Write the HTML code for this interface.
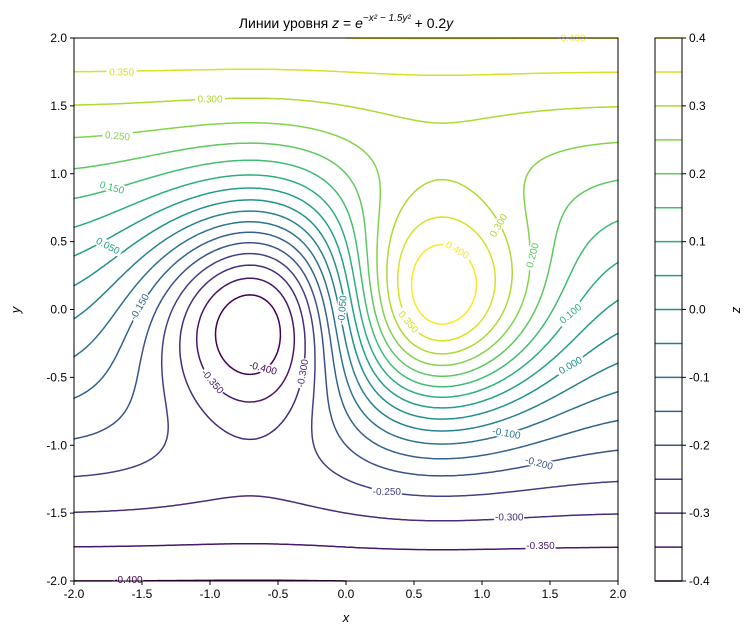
<!DOCTYPE html>
<html><head><meta charset="utf-8">
<style>
body{margin:0;background:#fff;font-family:"Liberation Sans",sans-serif;}
svg text{font-family:"Liberation Sans","DejaVu Sans",sans-serif;}
</style></head>
<body>
<svg id="chart" width="754" height="634" xmlns="http://www.w3.org/2000/svg">
<rect width="754" height="634" fill="#fff"/>
<g id="plot"></g>
<g id="labels"></g>
<rect x="74" y="38" width="544" height="543" fill="none" stroke="#000" stroke-width="1"/>
<g id="axes"></g>
<text x="346" y="28" text-anchor="middle" font-size="14">Линии уровня <tspan font-style="italic">z</tspan> = <tspan font-style="italic">e</tspan><tspan dy="-7" font-size="10" font-style="italic">−x² − 1.5y²</tspan><tspan dy="7"> + 0.2</tspan><tspan font-style="italic">y</tspan></text>
<text x="346" y="622" text-anchor="middle" font-size="13" font-style="italic">x</text>
<text x="20" y="310" text-anchor="middle" font-size="13" font-style="italic" transform="rotate(-90 20 310)">y</text>
<g id="cbar"></g>
<text x="740" y="310" text-anchor="middle" font-size="13" font-style="italic" transform="rotate(-90 740 310)">z</text>
</svg>
<script>
const levels=[-0.4,-0.35,-0.3,-0.25,-0.2,-0.15,-0.1,-0.05,0,0.05,0.1,0.15,0.2,0.25,0.3,0.35,0.4];
const xTicks=[-2,-1.5,-1,-0.5,0,0.5,1,1.5,2];
const yTicks=[-2,-1.5,-1,-0.5,0,0.5,1,1.5,2];
const cbTicks=[-0.4,-0.3,-0.2,-0.1,0,0.1,0.2,0.3,0.4];
const labelTexts=["0.400","0.350","0.300","0.250","0.150","0.050","-0.150","-0.350","-0.400","-0.300","-0.050","0.400","0.350","0.300","0.200","0.100","0.000","-0.100","-0.200","-0.250","-0.300","-0.350","-0.400"];
const labelXs=[1.67,-1.65,-1.0,-1.68,-1.72,-1.75,-1.52,-0.98,-0.61,-0.32,-0.03,0.82,0.46,1.12,1.37,1.65,1.65,1.18,1.42,0.3,1.2,1.43,-1.6];
const labelYs=[2.0,1.75,1.55,1.28,0.9,0.47,0.02,-0.53,-0.43,-0.47,0.0,0.44,-0.09,0.62,0.4,-0.03,-0.41,-0.91,-1.13,-1.34,-1.53,-1.74,-1.99];
const labelRots=[0,0,0,5,15,28,-60,50,15,-80,-85,30,50,-60,-75,-40,-30,10,15,0,0,0,0];

const X0=74,X1=618,Y0=581,Y1=38;
const sx=x=>X0+(x+2)/4*(X1-X0);
const sy=y=>Y0-(y+2)/4*(Y0-Y1);
const f=(x,y)=>x*Math.exp(-x*x-1.5*y*y)+0.2*y;
const vir=["#440154","#482475","#414487","#355f8d","#2a788e","#21918c","#22a884","#44bf70","#7ad151","#bddf26","#fde725"];
function hx(c){return [1,3,5].map(i=>parseInt(c.substr(i,2),16));}
function cmap(t){t=Math.max(0,Math.min(1,t))*10;const i=Math.min(9,Math.floor(t)),u=t-i;const a=hx(vir[i]),b=hx(vir[i+1]);return "rgb("+a.map((v,k)=>Math.round(v+(b[k]-v)*u)).join(",")+")";}
const col=l=>cmap((l-levels[0])/(levels[levels.length-1]-levels[0]));
const NS="http://www.w3.org/2000/svg";
function el(tag,attrs,parent){const e=document.createElementNS(NS,tag);for(const k in attrs)e.setAttribute(k,attrs[k]);parent.appendChild(e);return e;}

const N=220;
const grid=[];
for(let j=0;j<=N;j++){grid[j]=[];for(let i=0;i<=N;i++){grid[j][i]=f(-2+4*i/N,-2+4*j/N);}}
const plot=document.getElementById('plot');
levels.forEach((L,li)=>{
  let d="";
  for(let j=0;j<N;j++){for(let i=0;i<N;i++){
    const x0=-2+4*i/N,x1=-2+4*(i+1)/N,y0=-2+4*j/N,y1=-2+4*(j+1)/N;
    const v=[grid[j][i],grid[j][i+1],grid[j+1][i+1],grid[j+1][i]];
    const p=[[x0,y0],[x1,y0],[x1,y1],[x0,y1]];
    const pts=[];
    for(let k=0;k<4;k++){const a=v[k]-L,b=v[(k+1)%4]-L;
      if((a<0)!==(b<0)){const t=a/(a-b);const P=p[k],Q=p[(k+1)%4];pts.push([P[0]+(Q[0]-P[0])*t,P[1]+(Q[1]-P[1])*t]);}}
    for(let k=0;k+1<pts.length;k+=2){d+="M"+sx(pts[k][0]).toFixed(1)+" "+sy(pts[k][1]).toFixed(1)+"L"+sx(pts[k+1][0]).toFixed(1)+" "+sy(pts[k+1][1]).toFixed(1);}
  }}
  if(d){const pa=el('path',{d:d,stroke:col(L),'stroke-width':1.5,fill:'none','stroke-linecap':'round'},plot);
    
    }
});
const lg=document.getElementById('labels');
labelTexts.forEach((t,i)=>{
  const v=parseFloat(t);const x=sx(labelXs[i]),y=sy(labelYs[i]);
  const g=el('g',{transform:`translate(${x},${y}) rotate(${labelRots[i]})`},lg);
  
  
  el('rect',{x:-15,y:-5,width:30,height:10,fill:'#fff'},g);
  const tx=el('text',{x:0,y:3.5,'text-anchor':'middle','font-size':10,fill:col(v)},g);
  tx.textContent=t;
});
const ax=document.getElementById('axes');
xTicks.forEach(v=>{const x=sx(v);
  el('line',{x1:x,x2:x,y1:581,y2:585,stroke:'#000'},ax);
  const t=el('text',{x:x,y:598,'text-anchor':'middle','font-size':12},ax);t.textContent=v.toFixed(1);
  
  });
yTicks.forEach(v=>{const y=sy(v);
  el('line',{x1:70,x2:74,y1:y,y2:y,stroke:'#000'},ax);
  const t=el('text',{x:67,y:y+4,'text-anchor':'end','font-size':12},ax);t.textContent=v.toFixed(1);
  
  });
const cb=document.getElementById('cbar');
const cy=v=>581-(v+0.4)/0.8*543;
levels.forEach(L=>{const l=el('line',{x1:655,x2:682,y1:cy(L),y2:cy(L),stroke:col(L),'stroke-width':1.5},cb);
  
  });
el('rect',{x:655,y:38,width:27,height:543,fill:'none',stroke:'#000'},cb);
cbTicks.forEach(v=>{const y=cy(v);
  el('line',{x1:682,x2:686,y1:y,y2:y,stroke:'#000'},cb);
  const t=el('text',{x:689,y:y+4,'font-size':12},cb);t.textContent=v.toFixed(1);
  
  });
</script>
</body></html>
